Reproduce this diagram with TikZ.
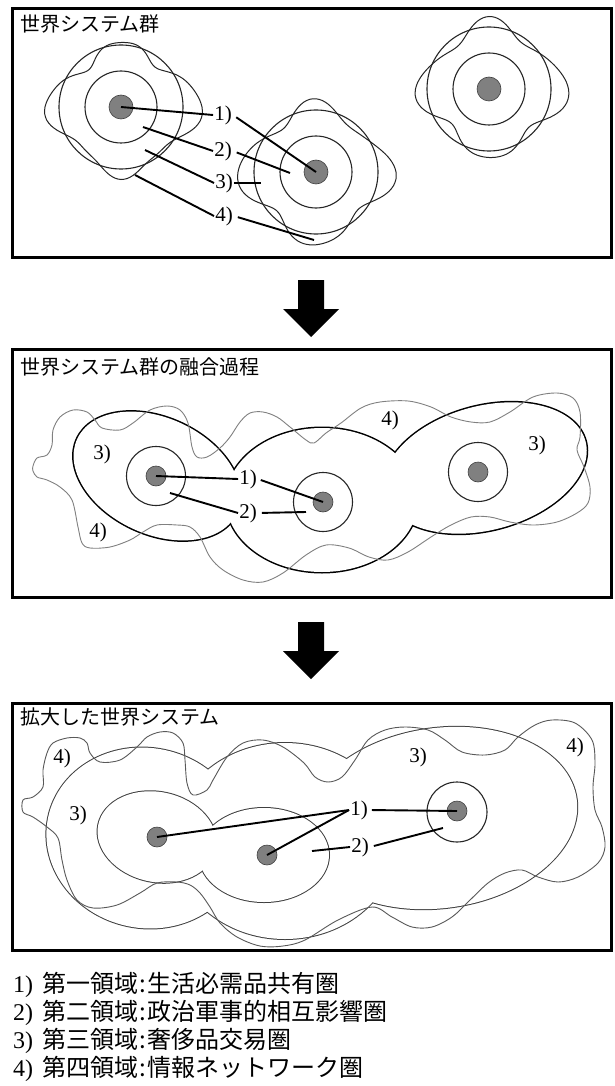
\documentclass[tikz,border=0pt]{standalone}
\usepackage{fontspec}
\newfontfamily\cjk{Noto Sans CJK JP}
\newfontfamily\lser{Liberation Serif}
\begin{document}
\begin{tikzpicture}[x=1pt,y=-1pt,
  frame/.style={draw=black,line width=3pt},
  ring/.style={draw=black!85,line width=1.1pt},
  dotA/.style={circle,fill=black!50,draw=black!75,line width=0.6pt,minimum size=24pt,inner sep=0pt},
  dotB/.style={dotA,minimum size=20pt},
  lead/.style={draw=black,line width=1.9pt},
  lbl/.style={font=\lser\fontsize{21}{21}\selectfont,inner sep=1pt},
  ttl/.style={font=\cjk\fontsize{20}{20}\selectfont,anchor=west,inner sep=0pt},
  leg/.style={font=\fontsize{24}{24}\selectfont,anchor=west,inner sep=0pt},
  wavyA/.style={draw=black!85,line width=1pt},
  wavyB/.style={draw=black!50,line width=0.9pt},
  wavyC/.style={draw=black!65,line width=0.9pt},
  boldline/.style={draw=black,line width=3pt},
  thinline/.style={draw=black!75,line width=2pt},
  blockarrow/.style={fill=black},
  declare function={
    wa(\t)=64+9.5*cos(4*\t)+5*cos(2*\t)+2.5*cos(\t)+2.5*sin(\t)+1.5*sin(9*\t);
    wb(\t)=66+10*cos(4*\t)+3*cos(2*\t)+1.5*sin(\t)+2*sin(7*\t+30);
    wc(\t)=64+9.5*cos(4*\t)+3*cos(2*\t)+3*cos(\t)+2*sin(7*\t);
  }
]
\useasboundingbox (0,0) rectangle (614,1086);
\fill[white] (0,0) rectangle (614,1086);

% ---------------- panel 1 ----------------
\draw[frame] (12,9) rectangle (611.5,257);
\node[ttl] (t1) at (20,24) {世界システム群};
\foreach \cx/\cy in {121/107,316/172,489/89}{
  \draw[ring] (\cx,\cy) circle[radius=36pt];
  \draw[ring] (\cx,\cy) circle[radius=62pt];
}
\draw[wavyA] plot[smooth cycle,domain=0:355,samples=72,variable=\t] ({121+wa(\t)*cos(\t)},{107+wa(\t)*sin(\t)});
\draw[wavyA] plot[smooth cycle,domain=0:355,samples=72,variable=\t] ({316+wb(\t)*cos(\t)},{172+wb(\t)*sin(\t)});
\draw[wavyA] plot[smooth cycle,domain=0:355,samples=72,variable=\t] ({489+wc(\t)*cos(\t)},{89+wc(\t)*sin(\t)});
\node[dotA] (p1dL) at (121,107) {};
\node[dotA] (p1dM) at (316,172) {};
\node[dotA] (p1dR) at (489,89) {};
\node[lbl] (p1l1) at (223,115) {1)};
\node[lbl] (p1l2) at (223,151) {2)};
\node[lbl] (p1l3) at (224,183) {3)};
\node[lbl] (p1l4) at (224,216) {4)};
\coordinate (p1a2) at (143,127);
\coordinate (p1a3) at (145,150);
\coordinate (p1a4) at (135,175);
\coordinate (p1b2) at (290,173);
\coordinate (p1b3) at (261,183);
\coordinate (p1b4) at (314,240);
\draw[lead] (p1dL.center) -- (p1l1.west);
\draw[lead,shorten <=4pt] (p1l1.east) -- (p1dM.center);
\draw[lead] (p1a2) -- (p1l2.west);
\draw[lead,shorten <=4pt] (p1l2.east) -- (p1b2);
\draw[lead] (p1a3) -- (p1l3.west);
\draw[lead] (p1l3.east) -- (p1b3);
\draw[lead] (p1a4) -- (p1l4.west);
\draw[lead,shorten <=4pt] (p1l4.east) -- (p1b4);

% arrow 1
\fill[blockarrow] (298,280) -- (324,280) -- (324,309) -- (339,309) -- (311,337) -- (283,309) -- (298,309) -- cycle;

% ---------------- panel 2 ----------------
\draw[frame] (12,349) rectangle (611.5,597);
\node[ttl] (t2) at (20,367) {世界システム群の融合過程};
\foreach \cx/\cy/\a/\b/\r in {157/476/88/58/-25, 322/500/96/72/0, 485/468/104/62/15}
  \draw[boldline,shift={(\cx,\cy)},rotate=\r] (0,0) ellipse[x radius=\a pt,y radius=\b pt];
\foreach \cx/\cy/\a/\b/\r in {157/476/88/58/-25, 322/500/96/72/0, 485/468/104/62/15}
  \fill[white,shift={(\cx,\cy)},rotate=\r] (0,0) ellipse[x radius=\a pt,y radius=\b pt];
\draw[wavyB] plot[smooth cycle,tension=0.55] coordinates {
 (33,466) (37,458) (47,455) (52,445) (53,430) (60,417) (73,410) (87,412) (95,420) (102,428)
 (120,430) (133,423) (150,410) (167,406) (180,410) (188,423) (192,447) (197,457) (207,457)
 (220,448) (230,437) (240,422) (250,413) (263,412) (277,417) (290,427) (306,440) (314,443)
 (326,433) (341,423) (361,408) (380,402) (408,401) (431,407) (451,417) (471,422) (490,422)
 (510,412) (533,397) (557,393) (573,398) (580,412) (580,437) (577,450) (584,467) (590,487)
 (588,503) (577,513) (557,522) (533,525) (510,522) (490,517) (471,517) (451,525) (431,537)
 (408,552) (388,560) (369,557) (349,548) (326,545) (306,555) (283,573) (263,582) (243,580)
 (223,570) (210,557) (200,537) (190,527) (177,525) (157,525) (143,532) (130,540) (110,547)
 (90,548) (82,543) (78,527) (72,500) (60,487) (47,480) (37,477) (33,471)};
\foreach \cx/\cy in {156/476,323/502,478/472}
  \draw[ring] (\cx,\cy) circle[radius=29.5pt];
\node[dotB] (p2dL) at (156,476) {};
\node[dotB] (p2dM) at (323,502) {};
\node[dotB] (p2dR) at (478,472) {};
\node[lbl] (p2l1) at (248,479) {1)};
\node[lbl] (p2l2) at (248,513) {2)};
\node[lbl] (p2l3a) at (102,454) {3)};
\node[lbl] (p2l3b) at (537,445) {3)};
\node[lbl] (p2l4a) at (98,532) {4)};
\node[lbl] (p2l4b) at (390,420) {4)};
\coordinate (p2a2) at (170,493);
\coordinate (p2b2) at (306,512);
\draw[lead] (p2dL.center) -- (p2l1.west);
\draw[lead,shorten <=3pt] (p2l1.east) -- (p2dM.center);
\draw[lead] (p2a2) -- (p2l2.west);
\draw[lead,shorten <=4pt] (p2l2.east) -- (p2b2);

% arrow 2
\fill[blockarrow] (298,622) -- (324,622) -- (324,651) -- (339,651) -- (311,679) -- (283,651) -- (298,651) -- cycle;

% ---------------- panel 3 ----------------
\draw[frame] (12,703) rectangle (611.5,950);
\node[ttl] (t3) at (20,717) {拡大した世界システム};
\foreach \cx/\cy/\a/\b/\r in {146/838/100/90/-12, 285/841/112/98/0, 440/818/138/90/8}
  \draw[thinline,shift={(\cx,\cy)},rotate=\r] (0,0) ellipse[x radius=\a pt,y radius=\b pt];
\foreach \cx/\cy/\a/\b/\r in {146/838/100/90/-12, 285/841/112/98/0, 440/818/138/90/8}
  \fill[white,shift={(\cx,\cy)},rotate=\r] (0,0) ellipse[x radius=\a pt,y radius=\b pt];
\foreach \cx/\cy/\a/\b/\r in {157/837/60/45/-12, 264/855/65/47/0}
  \draw[thinline,shift={(\cx,\cy)},rotate=\r] (0,0) ellipse[x radius=\a pt,y radius=\b pt];
\foreach \cx/\cy/\a/\b/\r in {157/837/60/45/-12, 264/855/65/47/0}
  \fill[white,shift={(\cx,\cy)},rotate=\r] (0,0) ellipse[x radius=\a pt,y radius=\b pt];
\draw[wavyC] plot[smooth cycle,tension=0.55] coordinates {
 (23,800) (23,812) (33,817) (47,827) (58,838) (62,860) (67,880) (77,900) (93,908) (117,905)
 (140,893) (157,883) (177,882) (190,885) (200,893) (210,907) (220,923) (237,937) (260,946)
 (283,946) (305,940) (338,920) (372,907) (392,917) (412,927) (432,927) (452,917) (468,902)
 (488,883) (505,873) (522,870) (538,877) (558,882) (578,877) (598,863) (605,847) (602,827)
 (595,810) (593,787) (595,763) (592,740) (575,723) (552,720) (535,725) (518,737) (505,750)
 (485,755) (462,752) (445,740) (428,730) (405,727) (385,730) (368,740) (355,760) (342,777)
 (328,782) (315,777) (304,763) (283,747) (263,740) (243,743) (227,757) (213,780) (207,790)
 (193,795) (187,783) (185,760) (183,743) (173,733) (160,732) (147,737) (137,747) (120,760)
 (100,762) (90,753) (87,743) (80,738) (67,738) (53,743) (47,753) (43,770) (43,787) (33,797)};
\draw[ring] (457,812) circle[radius=30pt];
\node[dotB] (p3dL) at (157,837) {};
\node[dotB] (p3dM) at (267,855) {};
\node[dotB] (p3dR) at (457,811) {};
\node[lbl] (p3l1) at (359,810) {1)};
\node[lbl] (p3l2) at (360,847) {2)};
\node[lbl] (p3l3a) at (78,815) {3)};
\node[lbl] (p3l3b) at (418,757) {3)};
\node[lbl] (p3l4a) at (62,758) {4)};
\node[lbl] (p3l4b) at (575,747) {4)};
\coordinate (p3a2) at (312,851);
\coordinate (p3b2) at (443,828);
\draw[lead] (p3dL.center) -- (p3l1.west);
\draw[lead] (p3dM.center) -- (p3l1.west);
\draw[lead,shorten <=3pt] (p3l1.east) -- (p3dR.center);
\draw[lead] (p3a2) -- (p3l2.west);
\draw[lead,shorten <=4pt] (p3l2.east) -- (p3b2);

% ---------------- legend ----------------
\node[leg] (lg1) at (13,985) {{\lser 1)}\hspace{9pt}{\cjk 第一領域\hspace{1.5pt}:\hspace{1.5pt}生活必需品共有圏}};
\node[leg] (lg2) at (13,1013) {{\lser 2)}\hspace{9pt}{\cjk 第二領域\hspace{1.5pt}:\hspace{1.5pt}政治軍事的相互影響圏}};
\node[leg] (lg3) at (13,1041) {{\lser 3)}\hspace{9pt}{\cjk 第三領域\hspace{1.5pt}:\hspace{1.5pt}奢侈品交易圏}};
\node[leg] (lg4) at (13,1069) {{\lser 4)}\hspace{9pt}{\cjk 第四領域\hspace{1.5pt}:\hspace{1.5pt}情報ネットワーク圏}};
\end{tikzpicture}
\end{document}
